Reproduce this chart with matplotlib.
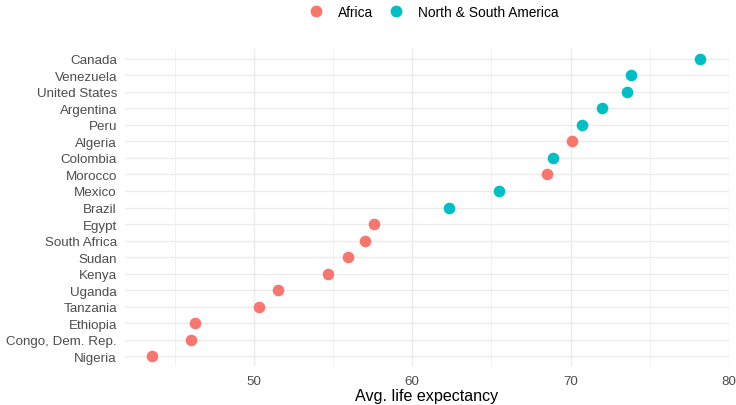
import matplotlib
matplotlib.use("Agg")
import matplotlib.pyplot as plt
from matplotlib.lines import Line2D

plt.rcParams['font.family'] = ['Liberation Sans', 'DejaVu Sans']

# Countries ordered bottom to top
countries = ["Nigeria", "Congo, Dem. Rep.", "Ethiopia", "Tanzania", "Uganda", "Kenya",
             "Sudan", "South Africa", "Egypt", "Brazil", "Mexico", "Morocco", "Colombia",
             "Algeria", "Peru", "Argentina", "United States", "Venezuela", "Canada"]
life_exp = [43.6, 46.05, 46.3, 50.3, 51.5, 54.7, 55.95, 57.05, 57.6, 62.3, 65.5, 68.5,
            68.9, 70.1, 70.7, 72.0, 73.55, 73.8, 78.2]
continent = ["Africa", "Africa", "Africa", "Africa", "Africa", "Africa", "Africa", "Africa",
             "Africa", "Americas", "Americas", "Africa", "Americas", "Africa", "Americas",
             "Americas", "Americas", "Americas", "Americas"]
legend_labels = {"Africa": "Africa", "Americas": "North & South America"}
palette = {"Africa": "#F8766D", "Americas": "#00BFC4"}
x_major = [50, 60, 70, 80]
x_minor = [45, 55, 65, 75]

fig = plt.figure(figsize=(7.36, 4.06), dpi=100)
W, H = 736, 406
ax = fig.add_axes([125 / W, 1 - 367 / H, (729 - 125) / W, (367 - 50) / H])

ypos = list(range(len(countries)))
for key in ["Africa", "Americas"]:
    xs = [v for v, c in zip(life_exp, continent) if c == key]
    ys = [y for y, c in zip(ypos, continent) if c == key]
    ax.scatter(xs, ys, s=70, color=palette[key], zorder=3, linewidths=0)

lo, hi = min(life_exp), max(life_exp)
pad = (hi - lo) * 0.05
ax.set_xlim(lo - pad, hi + pad)
ax.set_ylim(-0.6, len(countries) - 1 + 0.6)

ax.set_xticks(x_major)
ax.set_xticks(x_minor, minor=True)
ax.set_yticks(ypos)
ax.set_yticklabels(countries)
ax.tick_params(axis="both", which="both", length=0, labelsize=9.6, labelcolor="#4D4D4D")
ax.tick_params(axis="y", pad=5.8)
ax.tick_params(axis="x", pad=6.5)

ax.grid(True, which="major", color="#EBEBEB", linewidth=1.0, zorder=0)
ax.grid(True, which="minor", axis="x", color="#EBEBEB", linewidth=0.5, zorder=0)
ax.set_axisbelow(True)
for s in ax.spines.values():
    s.set_visible(False)

ax.set_xlabel("Avg. life expectancy", fontsize=11.6, color="black", labelpad=1)

handles = [Line2D([], [], marker="o", linestyle="", markersize=8.5, markeredgewidth=0,
                  color=palette[k]) for k in ["Africa", "Americas"]]
fig.legend(handles, [legend_labels[k] for k in ["Africa", "Americas"]],
           loc="center", bbox_to_anchor=(433 / W, 1 - 13 / H), ncol=2, frameon=False,
           fontsize=9.9, handletextpad=1.0, columnspacing=1.07, handlelength=1.2,
           borderaxespad=0, borderpad=0)

fig.savefig("out.png", dpi=100)
